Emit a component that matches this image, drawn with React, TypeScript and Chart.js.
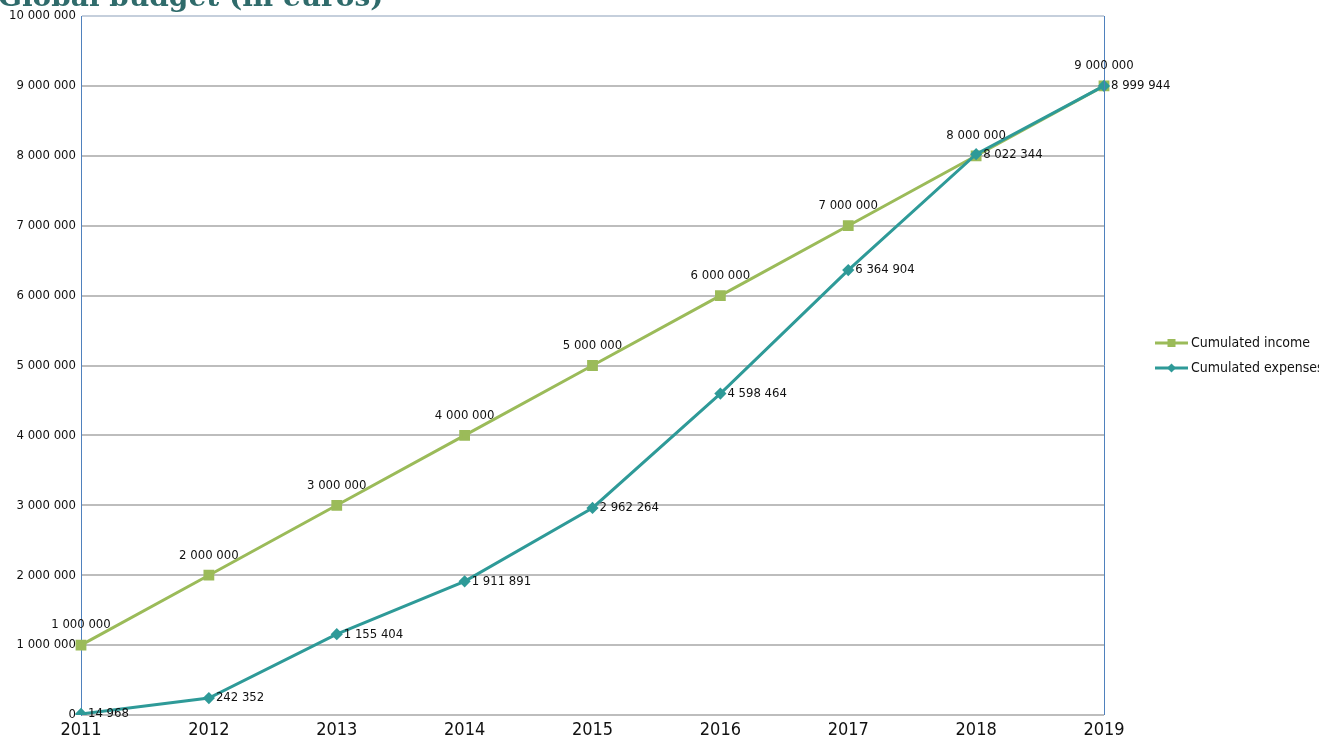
import React, { useEffect, useRef } from "react";
import { Chart, registerables } from "chart.js";

Chart.register(...registerables);

const years = ["2011", "2012", "2013", "2014", "2015", "2016", "2017", "2018", "2019"];
const cumulatedIncome = [1000000, 2000000, 3000000, 4000000, 5000000, 6000000, 7000000, 8000000, 9000000];
const cumulatedExpenses = [14968, 242352, 1155404, 1911891, 2962264, 4598464, 6364904, 8022344, 8999944];
const seriesNames = ["Cumulated income", "Cumulated expenses"];
const chartTitle = "Global budget (in euros)";

const GREEN = "#9bbb59";
const TEAL = "#2e9a98";
const NARROW = "'Liberation Sans Narrow', 'DejaVu Sans Condensed', 'Arial Narrow', Arial, sans-serif";

const fmt = (v: number) => Math.round(v).toString().replace(/\B(?=(\d{3})+(?!\d))/g, " ");

const decorPlugin = {
  id: "decor",
  afterDatasetsDraw(chart: any) {
    const ctx = chart.ctx;
    const area = chart.chartArea;
    ctx.save();
    // right border
    ctx.strokeStyle = "#4f81bd";
    ctx.lineWidth = 1;
    ctx.beginPath();
    ctx.moveTo(area.right + 0.5, area.top);
    ctx.lineTo(area.right + 0.5, area.bottom);
    ctx.stroke();

    // data labels
    ctx.font = `13px ${NARROW}`;
    ctx.fillStyle = "#111";
    const m0 = chart.getDatasetMeta(1);
    m0.data.forEach((pt: any, i: number) => {
      ctx.textAlign = "center";
      ctx.textBaseline = "middle";
      ctx.fillText(fmt(cumulatedIncome[i]), pt.x, pt.y - 20);
    });
    const m1 = chart.getDatasetMeta(0);
    m1.data.forEach((pt: any, i: number) => {
      ctx.textAlign = "left";
      ctx.textBaseline = "middle";
      ctx.fillText(fmt(cumulatedExpenses[i]), pt.x + 7, pt.y);
    });

    // legend
    const lx = area.right + 51;
    const items = [
      { name: seriesNames[0], color: GREEN, style: "rect", y: area.top + 327 },
      { name: seriesNames[1], color: TEAL, style: "rectRot", y: area.top + 352 },
    ];
    items.forEach((it) => {
      ctx.strokeStyle = it.color;
      ctx.lineWidth = 3;
      ctx.beginPath();
      ctx.moveTo(lx, it.y);
      ctx.lineTo(lx + 33, it.y);
      ctx.stroke();
      ctx.fillStyle = it.color;
      if (it.style === "rect") {
        ctx.fillRect(lx + 12.5, it.y - 4, 8, 8);
      } else {
        ctx.beginPath();
        ctx.moveTo(lx + 16.5, it.y - 4.5);
        ctx.lineTo(lx + 21, it.y);
        ctx.lineTo(lx + 16.5, it.y + 4.5);
        ctx.lineTo(lx + 12, it.y);
        ctx.closePath();
        ctx.fill();
      }
      ctx.fillStyle = "#111";
      ctx.font = `14px ${NARROW}`;
      ctx.textAlign = "left";
      ctx.textBaseline = "middle";
      ctx.fillText(it.name, lx + 36, it.y);
    });

    // title (partly cut off at the top)
    ctx.font = "bold 28px 'DejaVu Serif', serif";
    ctx.fillStyle = "#2f6b6b";
    ctx.textAlign = "left";
    ctx.textBaseline = "alphabetic";
    ctx.fillText(chartTitle, -2, 6);
    ctx.restore();
  },
};

export default function App() {
  const ref = useRef<HTMLCanvasElement | null>(null);
  useEffect(() => {
    document.body.style.margin = "0";
    if (!ref.current) return;
    const chart = new Chart(ref.current, {
      type: "line",
      data: {
        labels: years,
        datasets: [
          {
            label: seriesNames[1],
            data: cumulatedExpenses,
            borderColor: TEAL,
            backgroundColor: TEAL,
            borderWidth: 3,
            pointStyle: "rectRot",
            pointRadius: 4,
            tension: 0,
          },
          {
            label: seriesNames[0],
            data: cumulatedIncome,
            borderColor: GREEN,
            backgroundColor: GREEN,
            borderWidth: 3,
            pointStyle: "rect",
            pointRadius: 5.5,
            tension: 0,
          },
        ],
      },
      options: {
        responsive: false,
        animation: false,
        layout: { padding: { left: 0, top: 16, right: 215, bottom: 0 } },
        plugins: { legend: { display: false }, title: { display: false }, tooltip: { enabled: false } },
        scales: {
          x: {
            offset: false,
            grid: { display: false, drawTicks: false },
            border: { display: false },
            ticks: { color: "#111", font: { family: NARROW, size: 18 }, padding: 5, maxRotation: 0 },
            afterFit: (s: any) => { s.height = 27; },
          },
          y: {
            min: 0,
            max: 10000000,
            grid: {
              drawTicks: false,
              color: (c: any) => (c.tick && c.tick.value === 10000000 ? "#c5cfdc" : "#bdbdbd"),
              lineWidth: 2,
            },
            border: { display: true, color: "#4f81bd", width: 1 },
            ticks: {
              stepSize: 1000000,
              color: "#111",
              font: { family: NARROW, size: 13 },
              padding: 5,
              callback: (v: any) => fmt(Number(v)),
            },
            afterFit: (s: any) => { s.width = 81; },
          },
        },
      },
      plugins: [decorPlugin],
    } as any);
    return () => chart.destroy();
  }, []);
  return <canvas ref={ref} width={1319} height={742} style={{ display: "block" }} />;
}
